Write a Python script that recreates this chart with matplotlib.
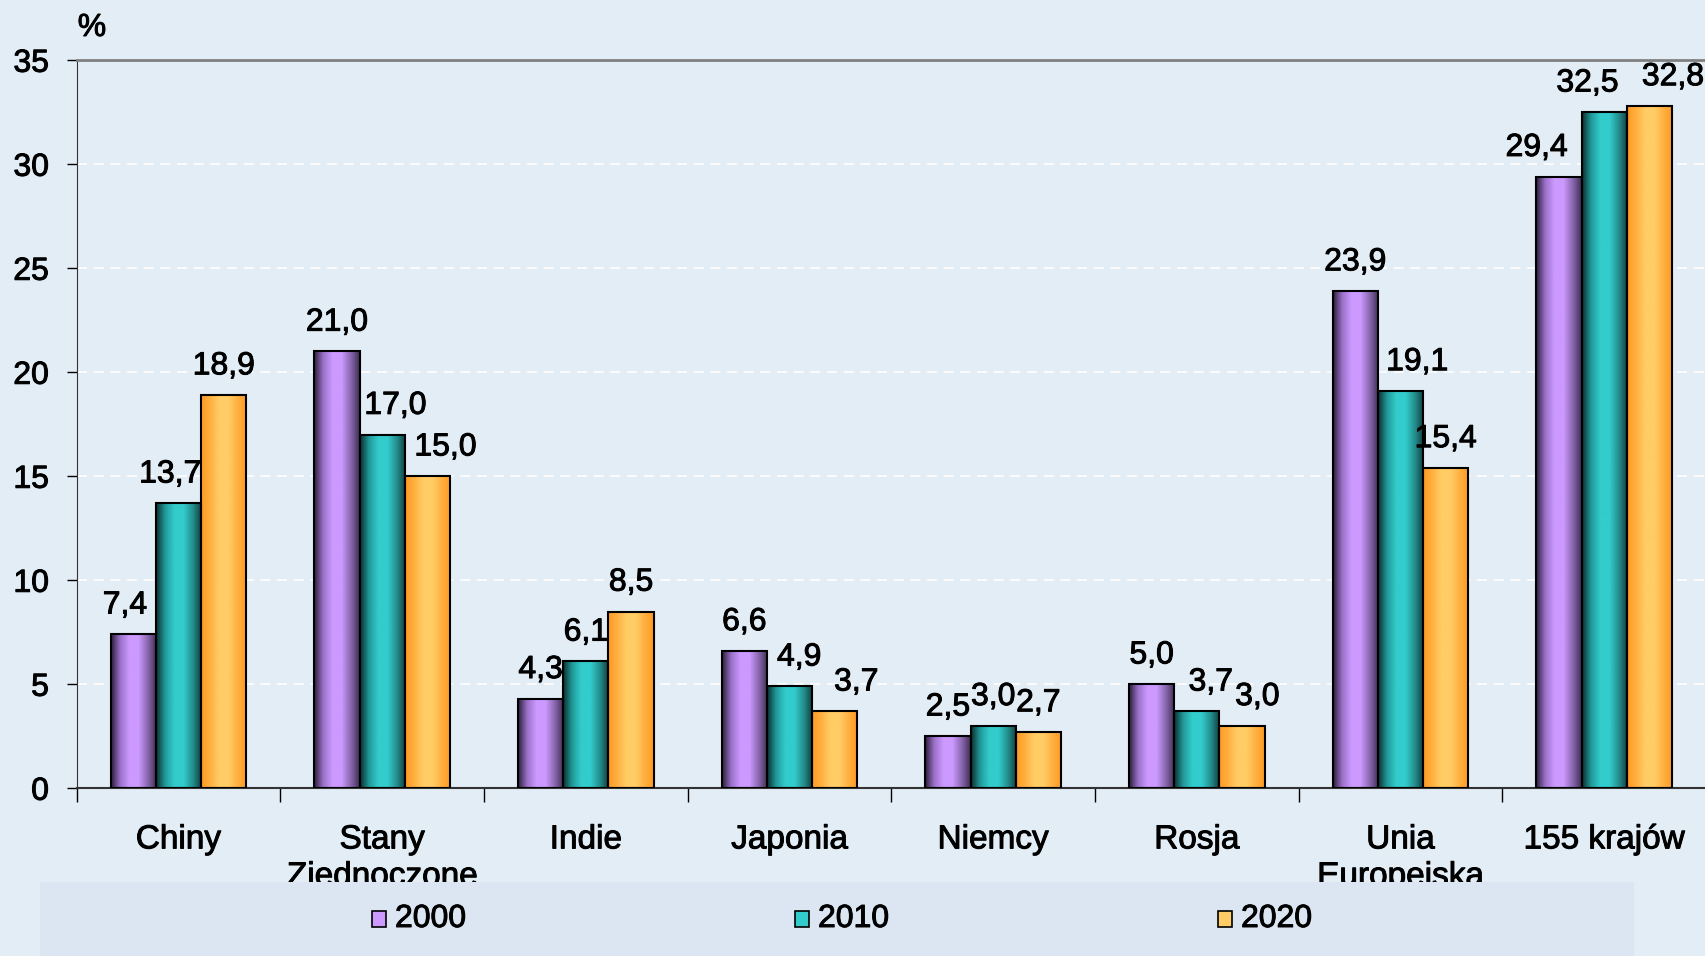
import numpy as np
import matplotlib.pyplot as plt
import matplotlib.patheffects as pe
from matplotlib.colors import LinearSegmentedColormap
from matplotlib.patches import Rectangle

plt.rcParams['font.family'] = ['Liberation Sans', 'DejaVu Sans']

categories = ['Chiny', 'Stany\nZjednoczone', 'Indie', 'Japonia', 'Niemcy',
              'Rosja', 'Unia\nEuropejska', '155 krajów']
years = ['2000', '2010', '2020']
v2000 = [7.4, 21.0, 4.3, 6.6, 2.5, 5.0, 23.9, 29.4]
v2010 = [13.7, 17.0, 6.1, 4.9, 3.0, 3.7, 19.1, 32.5]
v2020 = [18.9, 15.0, 8.5, 3.7, 2.7, 3.0, 15.4, 32.8]
series = [v2000, v2010, v2020]

# horizontal nudges of the value labels (points), as placed in the original
nudge = [
    [-6, 0, 0, 0, 0, 0, 0, -16],
    [-6, 9.5, 0, 7, 0, 10, 12, -12],
    [0, 13, 0, 15.5, 0, 11, 0, 17],
]

# gradients across each bar: dark left, light middle, darker right
grads = [
    ['#2a1d38', '#9a70c8', '#cc99ff', '#cc99ff', '#8a68b0', '#3d2c50'],
    ['#0a2e2e', '#229999', '#33cccc', '#33cccc', '#258f8f', '#103c3c'],
    ['#ff9922', '#ffb040', '#ffcc66', '#ffcc66', '#ffb040', '#ff9922'],
]
solid = ['#cc99ff', '#33cccc', '#ffcc66']

thick = [pe.withStroke(linewidth=0.7, foreground='black')]
bg = '#e3edf6'
fig = plt.figure(figsize=(17.06, 9.56), dpi=100, facecolor=bg)
ax = fig.add_axes([76.7 / 1706, 1 - 788.3 / 956, (1706 - 76.7) / 1706, 728 / 956])
ax.set_facecolor(bg)

x = np.arange(len(categories))
w = 0.222
for i, vals in enumerate(series):
    cmap = LinearSegmentedColormap.from_list('g%d' % i, grads[i])
    grad = np.linspace(0, 1, 256).reshape(1, -1)
    bars = ax.bar(x + (i - 1) * w, vals, width=w, facecolor='none',
                  edgecolor='black', linewidth=1.5, zorder=3)
    for j, (b, v) in enumerate(zip(bars, vals)):
        x0 = b.get_x()
        im = ax.imshow(grad, cmap=cmap, aspect='auto', zorder=2.5,
                       extent=[x0, x0 + w, 0, v], interpolation='bilinear')
        im.set_clip_path(b)
        ax.annotate(f'{v:.1f}'.replace('.', ','), (x0 + w / 2, v),
                    xytext=(nudge[i][j], 15), textcoords='offset points',
                    ha='center', va='baseline', fontsize=23, zorder=4,
                    path_effects=thick)

ax.set_xlim(-0.5, len(categories) - 0.5)
ax.set_ylim(0, 35)
ax.set_yticks(range(0, 36, 5))
ax.tick_params(axis='y', labelsize=23, length=7, width=1, direction='out', pad=13)
ax.set_xticks(x)
ax.set_xticklabels(categories, fontsize=24, linespacing=1.25)
ax.tick_params(axis='x', which='major', length=0, pad=26)
ax.set_xticks(np.arange(-0.5, len(categories), 1), minor=True)
ax.tick_params(axis='x', which='minor', length=10, width=1)
for lab in ax.get_xticklabels() + ax.get_yticklabels():
    lab.set_path_effects(thick)

ax.grid(axis='y', color='white', linestyle=(0, (6, 4)), linewidth=1.2)
ax.set_axisbelow(True)
ax.spines['top'].set_color('#808080')
ax.spines['top'].set_linewidth(2)
ax.spines['right'].set_visible(False)
ax.spines['left'].set_color('#333333')
ax.spines['bottom'].set_color('#333333')
ax.spines['bottom'].set_linewidth(1.5)

fig.text(92 / 1706, 1 - 28 / 956, '%', fontsize=23, ha='center', va='center',
         path_effects=thick)

# legend band covering the bottom of the category labels
fig.patches.append(Rectangle((40 / 1706, 0), (1634 - 40) / 1706, (956 - 882) / 956,
                             transform=fig.transFigure, facecolor='#dbe6f2',
                             edgecolor='none', zorder=5))
leg_x = [379, 802, 1225]
for i, yr in enumerate(years):
    fig.patches.append(Rectangle(((leg_x[i] - 7) / 1706, 1 - 927 / 956), 14 / 1706, 16 / 956,
                                 transform=fig.transFigure, facecolor=solid[i],
                                 edgecolor='black', linewidth=1.2, zorder=6))
    fig.text((leg_x[i] + 16) / 1706, 1 - 919 / 956, yr, fontsize=23,
             ha='left', va='center', zorder=7, path_effects=thick)

plt.savefig('out.png', dpi=100, facecolor=bg)
